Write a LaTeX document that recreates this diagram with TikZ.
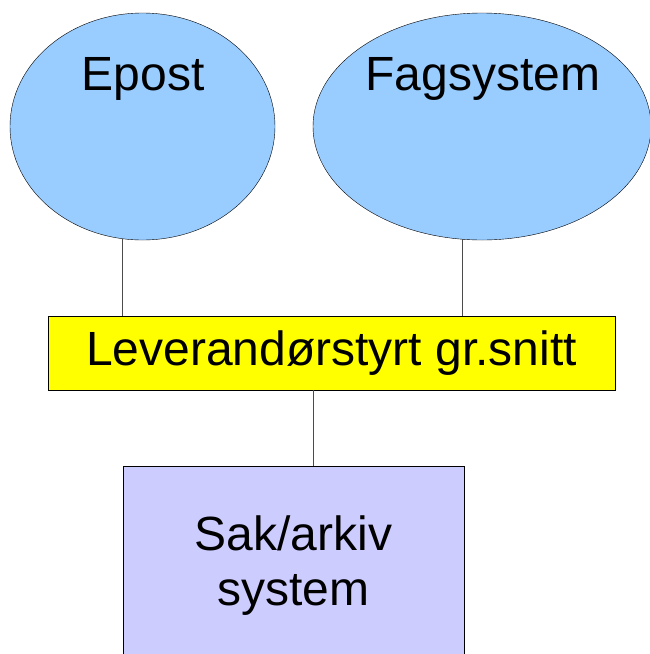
\documentclass[tikz,border=0pt]{standalone}
\usepackage{fontspec}
\setmainfont{Liberation Sans}
\usetikzlibrary{shapes.geometric}

\definecolor{sysblue}{RGB}{153,204,255}
\definecolor{gryellow}{RGB}{255,255,0}
\definecolor{sakpurple}{RGB}{204,204,255}

\begin{document}
\begin{tikzpicture}[x=1pt,y=-1pt,
  sysellipse/.style={ellipse,draw,fill=sysblue,inner sep=0pt},
  sysbox/.style={rectangle,draw,inner sep=0pt},
  big/.style={font=\fontsize{48}{55}\selectfont},
  wire/.style={draw=black!70,line width=1pt}]

  \useasboundingbox (0,0) rectangle (649,654);

  % Ellipses
  \node[sysellipse,minimum width=265,minimum height=227] (epost) at (142.5,126.5) {};
  \node[big,anchor=base] (epostlabel) at (143,90) {Epost};
  \node[sysellipse,minimum width=338,minimum height=227] (fag) at (482,126.5) {};
  \node[big,anchor=base] (faglabel) at (483,90) {Fagsystem};

  % Boxes
  \node[sysbox,fill=gryellow,minimum width=567,minimum height=74,big] (snitt) at (331.5,353) {Leverandørstyrt gr.snitt};
  \node[sysbox,fill=sakpurple,minimum width=341,minimum height=200,big,align=center] (sak) at (293.5,566) {Sak/arkiv\\system};

  % Connectors
  \draw[wire] (epost.260.6) -- (epost.260.6 |- snitt.north);
  \draw[wire] (fag.260.9) -- (fag.260.9 |- snitt.north);
  \draw[wire] ([xshift=-18.5]snitt.south) -- ([xshift=-18.5]snitt.south |- sak.north);

\end{tikzpicture}
\end{document}
